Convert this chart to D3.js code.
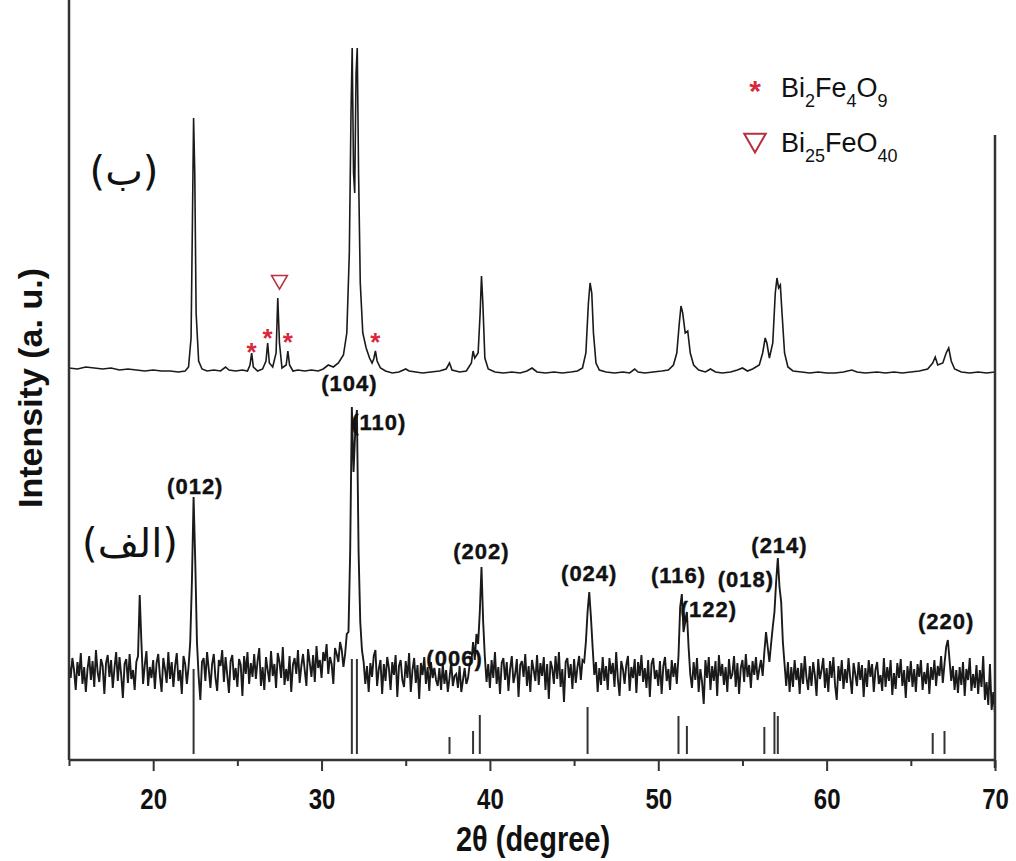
<!DOCTYPE html>
<html>
<head>
<meta charset="utf-8">
<script src="https://cdn.jsdelivr.net/npm/d3@7"></script>
<style>
  body { margin: 0; background: #fff; }
  svg { display: block; }
</style>
</head>
<body>
<svg id="chart"></svg>
<script>
// ---- data ----
// top pattern (ب): [2theta, intensity above its own baseline]
var topPattern = [
  [15,5],[15.5,4],[16,6],[16.5,5],[17,4],[17.5,5],[18,3],[18.5,4],[19,3],[19.5,2],[20,3],[20.5,2],[21,2],[21.5,1],
  [21.9,2],[22.1,6],[22.25,35],[22.33,150],[22.4,255],[22.47,200],[22.55,60],[22.7,12],[22.9,4],[23.2,2],[23.6,3],
  [24.0,2],[24.3,6],[24.5,3],[24.9,2],[25.3,3],[25.6,2],[25.75,8],[25.85,20],[25.95,6],[26.2,2],[26.5,4],[26.7,12],
  [26.8,30],[26.9,10],[27.1,6],[27.3,20],[27.4,75],[27.5,30],[27.65,5],[27.9,8],[28.0,22],[28.1,8],[28.3,2],[28.6,3],
  [29.0,2],[29.4,3],[29.8,2],[30.1,4],[30.4,8],[30.7,6],[31.0,10],[31.3,18],[31.5,40],[31.65,120],[31.75,260],
  [31.82,325],[31.9,200],[31.97,180],[32.05,300],[32.12,325],[32.2,200],[32.3,90],[32.45,40],[32.65,25],[32.85,15],
  [33.0,10],[33.1,14],[33.2,22],[33.3,12],[33.5,5],[33.8,2],[34.2,0],[34.6,1],[35.0,4],[35.2,2],[35.6,1],[36.0,0],
  [36.5,1],[37.0,2],[37.4,4],[37.6,10],[37.75,3],[38.2,1],[38.6,2],[38.9,10],[39.0,22],[39.1,15],[39.3,20],[39.42,60],
  [39.5,97],[39.58,70],[39.7,15],[39.9,4],[40.3,1],[40.8,0],[41.3,1],[41.8,0],[42.2,2],[42.5,5],[42.8,1],[43.3,0],
  [43.8,1],[44.3,0],[44.8,1],[45.2,2],[45.5,5],[45.7,20],[45.85,70],[45.95,90],[46.05,80],[46.15,40],[46.3,10],
  [46.5,3],[46.9,1],[47.4,0],[47.9,1],[48.3,0],[48.6,4],[48.8,1],[49.2,0],[49.7,1],[50.2,2],[50.6,3],[50.9,8],
  [51.1,20],[51.25,50],[51.35,67],[51.45,60],[51.6,40],[51.75,42],[51.9,20],[52.1,8],[52.4,3],[52.8,1],[53.1,4],
  [53.4,1],[53.8,0],[54.3,1],[54.7,3],[55.0,5],[55.3,2],[55.6,4],[56.0,8],[56.2,20],[56.35,35],[56.45,30],[56.6,15],
  [56.8,30],[56.95,80],[57.05,95],[57.15,85],[57.25,88],[57.35,60],[57.5,20],[57.7,6],[58.0,2],[58.5,1],[59.0,0],
  [59.5,1],[60.0,0],[60.5,0],[61.0,1],[61.5,3],[61.8,1],[62.3,0],[63.0,1],[63.5,0],[64.0,1],[64.5,0],[65.0,1],
  [65.5,2],[66.0,4],[66.3,10],[66.45,16],[66.6,8],[66.9,10],[67.1,20],[67.25,25],[67.4,12],[67.6,4],[68.0,1],
  [68.5,0],[69.0,1],[69.5,0],[70,1]
];

// bottom pattern (الف): scan from 15 to 70 deg, 0.1 deg step, intensity about its baseline
var bottomStart = 15, bottomStep = 0.1;
var bottomCounts = [
  8,-6,14,2,-18,10,-4,19,-12,5,
  -20,3,16,-8,11,-15,22,0,-10,13,
  6,-22,9,17,-5,12,-16,4,20,-9,
  15,-3,-26,8,13,-11,18,-7,2,-18,
  10,16,77,30,-12,7,21,-14,5,-6,
  12,-17,9,18,-4,-20,14,3,-11,20,
  -7,10,-15,6,19,-9,2,-22,16,8,
  -12,5,30,90,175,110,30,-4,-28,10,
  14,-9,20,3,-16,8,18,-6,-19,12,
  6,22,-10,15,-3,-21,11,17,-8,4,
  -15,13,7,-24,16,-2,20,-12,9,-5,
  18,-7,11,24,-14,5,-18,15,2,-10,
  21,-4,8,-16,19,10,-6,25,-13,3,
  -9,16,-20,7,14,-2,22,-11,6,18,
  2,-14,23,9,-5,17,-10,26,4,12,
  -6,20,11,28,-2,15,8,-12,24,18,
  10,30,22,5,18,38,40,120,265,200,
  240,262,120,50,22,10,-12,6,-20,9,
  -5,16,22,-14,3,12,-22,8,-9,15,
  4,-18,10,-3,17,-25,6,12,-8,-15,
  11,-6,19,-20,2,14,-11,7,-27,9,
  -3,15,-12,5,-19,10,-6,4,-8,-14,
  4,-18,8,-12,2,-20,-6,10,-14,-4,
  -2,-16,6,-20,-8,4,-12,-6,8,10,
  30,12,38,28,60,105,50,15,-10,8,
  -16,12,-6,20,-12,5,-22,9,14,-8,
  10,-19,3,16,-11,-2,13,-25,7,11,
  -5,18,-14,6,-20,12,2,-9,17,-13,
  9,-4,15,-18,8,-27,11,4,-12,16,
  -7,20,-15,3,-30,10,14,-6,8,-17,
  13,-11,5,16,-8,12,10,30,60,80,
  55,25,-3,10,-20,4,-13,15,-9,6,
  -18,14,-2,9,-15,20,-7,-24,11,3,
  -12,7,16,-19,5,-6,13,-21,10,-4,
  17,-10,4,-16,12,-25,8,14,-7,2,
  -14,11,-22,6,15,-9,3,-18,12,-5,
  9,-12,16,65,78,40,50,60,25,-2,
  -16,10,-8,14,-20,3,-10,-32,12,-6,
  15,-18,6,-9,11,-24,17,-4,8,-13,
  5,-20,13,-7,-2,16,-15,9,-22,4,
  12,-10,18,-5,7,-16,11,-3,15,-8,
  3,12,-4,20,40,25,10,28,45,60,
  90,114,85,70,30,8,-14,10,-20,5,
  -15,12,-8,4,-22,9,-12,16,-5,-18,
  6,-14,10,-3,-24,13,-7,2,14,-16,
  4,-20,11,-6,15,-13,-28,6,-9,12,
  -17,3,-11,14,-6,-22,9,-2,-14,10,
  -8,7,-25,4,-15,12,-5,8,-20,2,
  10,-12,-3,-19,14,-15,5,-9,12,-23,
  -1,-17,9,-6,13,-14,2,-26,6,-10,
  11,-15,3,-20,8,-5,12,-18,0,-12,
  9,-22,5,-8,12,-14,6,-4,16,-11,
  8,25,32,12,-9,6,-18,2,-21,5,
  -13,10,-24,3,-8,14,-19,-2,-16,7,
  -22,2,-15,16,-28,-10,-33,8,-38,-20,
  -42
];

// reference (JCPDS) stick lines for BiFeO3
var refPos    = [22.4, 31.8, 32.1, 37.6, 39.0, 39.4, 45.8, 51.2, 51.7, 56.3, 56.9, 57.1, 66.3, 67.0];
var refHeight = [85, 95, 95, 17, 23, 39, 47, 38, 28, 27, 42, 38, 21, 23];

// hkl labels of bottom pattern
var hklText = ["(104)", "(110)", "(012)", "(202)", "(006)", "(024)", "(116)", "(122)", "(018)", "(214)", "(220)"];
var hklPos  = [31.65, 33.4, 22.5, 39.5, 37.9, 45.9, 51.2, 53.0, 55.2, 57.2, 67.1];
var hklY    = [369, 330, 266, 201, 94, 179, 177, 143, 173, 207, 131];

// impurity markers on the top pattern
var starPos = [25.85, 26.8, 28.0, 33.2];
var starY   = [26, 40, 36, 36];
var triPos  = [27.5];
var triY    = [93];

var xTicks = [20, 30, 40, 50, 60, 70];
var xMinorTicks = [15, 25, 35, 45, 55, 65];

// ---- layout ----
var size = { width: 1016, height: 861 };
var plot = { left: 69, right: 995, bottom: 760 };
var topOffset = 387, bottomOffset = 88, stickBase = 6;
var red = "#d8283c";

var x = d3.scaleLinear().domain([15, 70]).range([plot.left, plot.right]);
var y = d3.scaleLinear().domain([0, 760]).range([plot.bottom, 0]);

var svg = d3.select("#chart")
  .attr("width", size.width)
  .attr("height", size.height)
  .style("font-family", "'Liberation Sans', Arial, sans-serif");

svg.append("rect").attr("width", size.width).attr("height", size.height).attr("fill", "#fff");

// パターン
var lineTop = d3.line()
  .x(function(d){ return x(d[0]); })
  .y(function(d){ return y(d[1] + topOffset); });

var lineBottom = d3.line()
  .x(function(d, i){ return x(bottomStart + i * bottomStep); })
  .y(function(d){ return y(d + bottomOffset); });

svg.append("path")
  .datum(topPattern)
  .attr("d", lineTop)
  .attr("fill", "none")
  .attr("stroke", "#1a1a1a")
  .attr("stroke-width", 1.6);

svg.append("path")
  .datum(bottomCounts)
  .attr("d", lineBottom)
  .attr("fill", "none")
  .attr("stroke", "#1a1a1a")
  .attr("stroke-width", 1.9);

// stick pattern
svg.selectAll("line.ref")
  .data(refPos)
  .enter()
  .append("line")
  .attr("class", "ref")
  .attr("x1", function(d){ return x(d); })
  .attr("x2", function(d){ return x(d); })
  .attr("y1", y(stickBase))
  .attr("y2", function(d, i){ return y(stickBase + refHeight[i]); })
  .attr("stroke", "#333")
  .attr("stroke-width", 2);

// axes
var gx = svg.append("g")
  .attr("transform", "translate(0," + plot.bottom + ")")
  .call(d3.axisBottom(x).tickValues(xTicks).tickSize(11).tickFormat(d3.format("d")));
gx.select(".domain").remove();
gx.selectAll(".tick line").attr("stroke", "#333").attr("stroke-width", 2);
// tick labels are a little condensed (tall) in the original
gx.selectAll(".tick text")
  .attr("y", 0)
  .attr("dy", 0)
  .attr("transform", "translate(0,49) scale(1,1.25)")
  .attr("font-size", 24)
  .attr("font-weight", "bold")
  .attr("fill", "#111")
  .attr("font-family", "'Liberation Sans', Arial, sans-serif");

var gxm = svg.append("g")
  .attr("transform", "translate(0," + plot.bottom + ")")
  .call(d3.axisBottom(x).tickValues(xMinorTicks).tickSize(6).tickFormat(""));
gxm.select(".domain").remove();
gxm.selectAll(".tick line").attr("stroke", "#333").attr("stroke-width", 2);

svg.append("line")
  .attr("x1", plot.left).attr("x2", plot.right)
  .attr("y1", plot.bottom).attr("y2", plot.bottom)
  .attr("stroke", "#333").attr("stroke-width", 2.5);
svg.append("line")
  .attr("x1", plot.left).attr("x2", plot.left)
  .attr("y1", 0).attr("y2", plot.bottom)
  .attr("stroke", "#333").attr("stroke-width", 2.5);
svg.append("line")
  .attr("x1", plot.right).attr("x2", plot.right)
  .attr("y1", 135).attr("y2", plot.bottom + 8)
  .attr("stroke", "#333").attr("stroke-width", 2.5);

// axis titles
svg.append("text")
  .attr("transform", "translate(533,851) scale(1,1.2)")
  .attr("text-anchor", "middle")
  .attr("font-size", 29)
  .attr("font-weight", "bold")
  .attr("fill", "#111")
  .text("2θ (degree)");

svg.append("text")
  .attr("transform", "translate(42,388) rotate(-90)")
  .attr("text-anchor", "middle")
  .attr("font-size", 34)
  .attr("font-weight", "bold")
  .attr("fill", "#111")
  .text("Intensity (a. u.)");

// hkl labels
svg.selectAll("text.hkl")
  .data(hklText)
  .enter()
  .append("text")
  .attr("class", "hkl")
  .attr("x", function(d, i){ return x(hklPos[i]); })
  .attr("y", function(d, i){ return y(hklY[i]); })
  .attr("text-anchor", "middle")
  .attr("font-size", 22)
  .attr("font-weight", "bold")
  .attr("letter-spacing", 1)
  .attr("fill", "#111")
  .attr("stroke", "#111")
  .attr("stroke-width", 0.4)
  .text(function(d){ return d; });

// sample labels
svg.append("text")
  .attr("x", 124).attr("y", 185)
  .attr("text-anchor", "middle")
  .attr("font-size", 40)
  .attr("font-family", "'DejaVu Sans', sans-serif")
  .attr("fill", "#111")
  .text("(ب)");

svg.append("text")
  .attr("x", 130).attr("y", 557)
  .attr("text-anchor", "middle")
  .attr("font-size", 40)
  .attr("font-family", "'DejaVu Sans', sans-serif")
  .attr("fill", "#111")
  .text("(الف)");

// impurity markers
svg.selectAll("text.star")
  .data(starPos)
  .enter()
  .append("text")
  .attr("class", "star")
  .attr("x", function(d){ return x(d); })
  .attr("y", function(d, i){ return y(topOffset + starY[i]) + 14; })
  .attr("text-anchor", "middle")
  .attr("font-size", 26)
  .attr("font-weight", "bold")
  .attr("fill", red)
  .text("*");

var tri = d3.symbol().type(d3.symbolTriangle).size(110);
svg.selectAll("path.tri")
  .data(triPos)
  .enter()
  .append("path")
  .attr("class", "tri")
  .attr("d", tri)
  .attr("transform", function(d, i){ return "translate(" + x(d) + "," + y(topOffset + triY[i]) + ") rotate(180)"; })
  .attr("fill", "none")
  .attr("stroke", "#b8303e")
  .attr("stroke-width", 1.5);

// legend
var legend = svg.append("g").attr("transform", "translate(755,0)");
legend.append("text")
  .attr("x", 0).attr("y", 101)
  .attr("text-anchor", "middle")
  .attr("font-size", 30)
  .attr("font-weight", "bold")
  .attr("fill", red)
  .text("*");
legend.append("path")
  .attr("d", d3.symbol().type(d3.symbolTriangle).size(200))
  .attr("transform", "translate(0,140) rotate(180)")
  .attr("fill", "none")
  .attr("stroke", "#b8303e")
  .attr("stroke-width", 2);

function formula(g, yy, parts){
  var t = g.append("text").attr("x", 26).attr("y", yy).attr("fill", "#111");
  parts.forEach(function(p){
    if (p[1]) {
      t.append("tspan").attr("font-size", 18).attr("dy", 10).text(p[0]);
    } else {
      t.append("tspan").attr("font-size", 27).attr("dy", -10).text(p[0]);
    }
  });
  t.select("tspan").attr("dy", 0);
}
formula(legend, 97, [["Bi"], ["2", 1], ["Fe"], ["4", 1], ["O"], ["9", 1]]);
formula(legend, 152, [["Bi"], ["25", 1], ["FeO"], ["40", 1]]);
</script>
</body>
</html>
